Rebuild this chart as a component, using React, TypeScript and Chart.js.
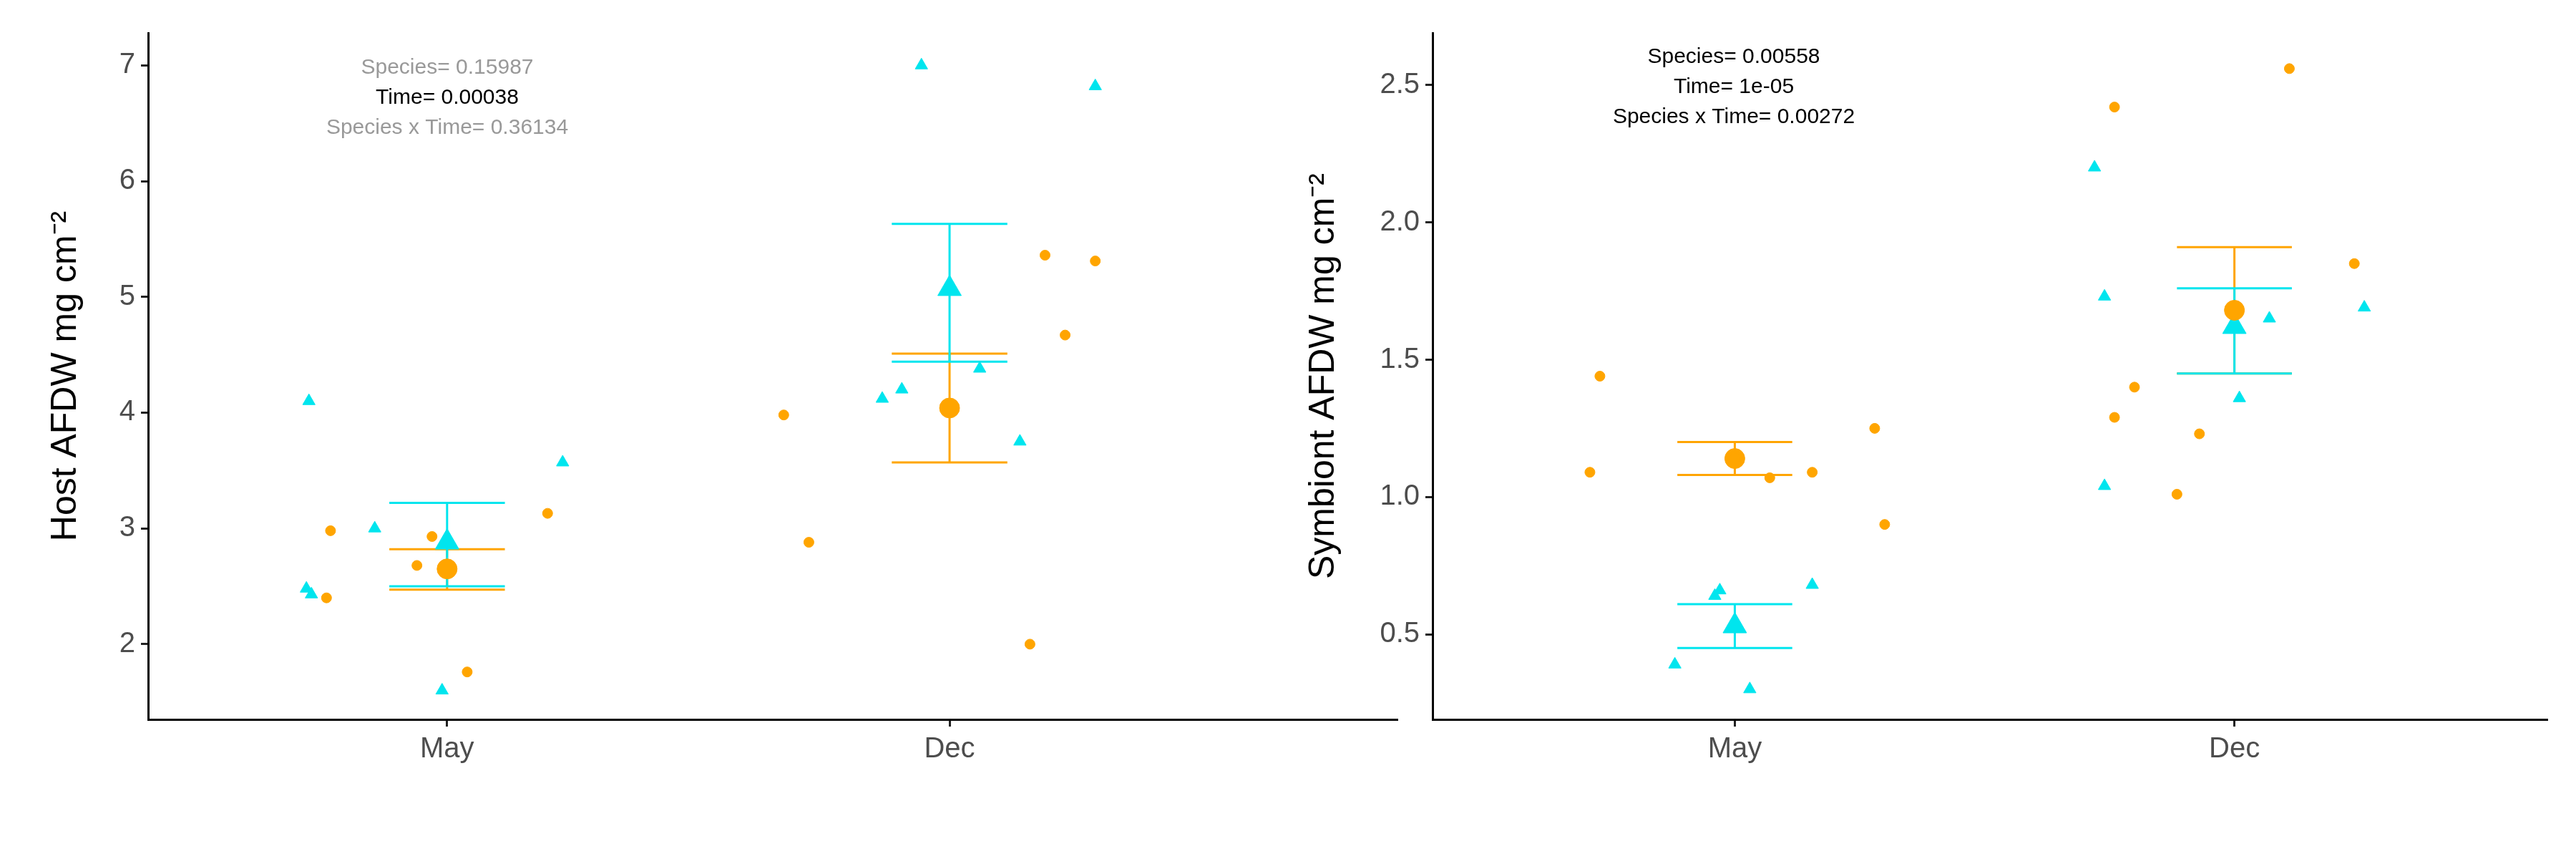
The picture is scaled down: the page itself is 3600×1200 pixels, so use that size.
import React, { useEffect, useRef } from 'react';
import { Chart, registerables } from 'chart.js';

Chart.register(...registerables);

const CYAN = '#00E5EE';
const ORANGE = '#FFA500';
const categories = ['May', 'Dec'];

// Host panel
const hostCyanX = [0.725, 0.72, 0.73, 0.856, 0.99, 1.23, 1.944, 1.866, 1.905, 2.06, 2.14, 2.29];
const hostCyanY = [4.1, 2.48, 2.43, 3.0, 1.6, 3.57, 7.0, 4.12, 4.2, 4.38, 3.75, 6.82];
const hostOrangeX = [0.768, 0.76, 0.94, 0.97, 1.04, 1.2, 1.67, 1.72, 2.19, 2.23, 2.29, 2.16];
const hostOrangeY = [2.98, 2.4, 2.68, 2.93, 1.76, 3.13, 3.98, 2.88, 5.36, 4.67, 5.31, 2.0];
const hostCyanMean = [2.88, 5.07];
const hostCyanLo = [2.5, 4.44];
const hostCyanHi = [3.22, 5.63];
const hostOrangeMean = [2.65, 4.04];
const hostOrangeLo = [2.47, 3.57];
const hostOrangeHi = [2.82, 4.51];
const hostStats = ['Species= 0.15987', 'Time= 0.00038', 'Species x Time= 0.36134'];
const hostSig = [false, true, false];

// Symbiont panel
const symCyanX = [0.88, 0.96, 0.97, 1.03, 1.155, 1.72, 1.74, 1.74, 2.01, 2.07, 2.26];
const symCyanY = [0.39, 0.64, 0.66, 0.3, 0.68, 2.2, 1.73, 1.04, 1.36, 1.65, 1.69];
const symOrangeX = [0.71, 0.73, 1.07, 1.155, 1.28, 1.3, 1.0, 1.76, 1.76, 1.8, 1.93, 1.885, 2.11, 2.24];
const symOrangeY = [1.09, 1.44, 1.07, 1.09, 1.25, 0.9, 1.14, 2.42, 1.29, 1.4, 1.23, 1.01, 2.56, 1.85];
const symCyanMean = [0.53, 1.62];
const symCyanLo = [0.45, 1.45];
const symCyanHi = [0.61, 1.76];
const symOrangeMean = [1.14, 1.68];
const symOrangeLo = [1.08, 1.45];
const symOrangeHi = [1.2, 1.91];
const symStats = ['Species= 0.00558', 'Time= 1e-05', 'Species x Time= 0.00272'];
const symSig = [true, true, true];

type PanelProps = {
  left: number; width: number; axisWidth: number; padRight: number; titlePad: number;
  xMin: number; xMax: number; yMin: number; yMax: number; yStep: number; decimals: number;
  title: string;
  cx: number[]; cy: number[]; ox: number[]; oy: number[];
  cMean: number[]; cLo: number[]; cHi: number[];
  oMean: number[]; oLo: number[]; oHi: number[];
  stats: string[]; sig: boolean[]; statsX: number; statsY: number;
};

const Panel = (p: PanelProps) => {
  const ref = useRef<HTMLCanvasElement>(null);
  useEffect(() => {
    if (!ref.current) return;
    const pts = (xs: number[], ys: number[]) => xs.map((x, i) => ({ x, y: ys[i] }));
    const means = (m: number[]) => m.map((y, i) => ({ x: i + 1, y }));
    const font = { family: 'Liberation Sans, Arial, sans-serif', size: 40 };
    const chart = new Chart(ref.current, {
      type: 'scatter',
      data: {
        datasets: [
          { data: pts(p.ox, p.oy), backgroundColor: ORANGE, borderColor: ORANGE, pointStyle: 'circle', pointRadius: 7 },
          { data: pts(p.cx, p.cy), backgroundColor: CYAN, borderColor: CYAN, pointStyle: 'triangle', pointRadius: 10 },
          { data: means(p.oMean), backgroundColor: ORANGE, borderColor: ORANGE, pointStyle: 'circle', pointRadius: 14 },
          { data: means(p.cMean), backgroundColor: CYAN, borderColor: CYAN, pointStyle: 'triangle', pointRadius: 19 },
        ],
      },
      options: {
        animation: false,
        responsive: false,
        layout: { padding: { top: 46, right: p.padRight, bottom: 0, left: 0 } },
        plugins: { legend: { display: false }, tooltip: { enabled: false } },
        scales: {
          x: {
            type: 'linear', min: p.xMin, max: p.xMax,
            afterBuildTicks: (s: any) => { s.ticks = [{ value: 1 }, { value: 2 }]; },
            afterFit: (s: any) => { s.height = 195; },
            ticks: { color: '#4d4d4d', font, padding: 8, callback: (v: any) => categories[Number(v) - 1] },
            grid: { drawOnChartArea: false, drawTicks: true, tickLength: 10, color: '#222', lineWidth: 3 },
            border: { display: true, color: '#000', width: 3 },
          },
          y: {
            min: p.yMin, max: p.yMax,
            afterBuildTicks: (s: any) => {
              const t = [];
              for (let v = Math.ceil(p.yMin / p.yStep) * p.yStep; v <= p.yMax + 1e-9; v += p.yStep) t.push({ value: +v.toFixed(2) });
              s.ticks = t;
            },
            afterFit: (s: any) => { s.width = p.axisWidth; },
            ticks: { color: '#4d4d4d', font, padding: 8, callback: (v: any) => Number(v).toFixed(p.decimals) },
            grid: { drawOnChartArea: false, drawTicks: true, tickLength: 10, color: '#222', lineWidth: 3 },
            border: { display: true, color: '#000', width: 3 },
            title: { display: true, text: p.title, color: '#000', font: { family: font.family, size: 50 }, padding: { top: p.titlePad, bottom: 10 } },
          },
        },
      },
      plugins: [{
        id: 'errbars',
        beforeDatasetsDraw: (c: any) => {
          const ctx = c.ctx, xs = c.scales.x, ys = c.scales.y;
          const bar = (lo: number[], hi: number[], col: string) => {
            ctx.save();
            ctx.strokeStyle = col; ctx.lineWidth = 3;
            lo.forEach((l, i) => {
              const x = xs.getPixelForValue(i + 1), x0 = xs.getPixelForValue(i + 1 - 0.115), x1 = xs.getPixelForValue(i + 1 + 0.115);
              const yl = ys.getPixelForValue(l), yh = ys.getPixelForValue(hi[i]);
              ctx.beginPath();
              ctx.moveTo(x, yl); ctx.lineTo(x, yh);
              ctx.moveTo(x0, yl); ctx.lineTo(x1, yl);
              ctx.moveTo(x0, yh); ctx.lineTo(x1, yh);
              ctx.stroke();
            });
            ctx.restore();
          };
          bar(p.oLo, p.oHi, ORANGE);
          bar(p.cLo, p.cHi, CYAN);
        },
        afterDraw: (c: any) => {
          const ctx = c.ctx;
          ctx.save();
          ctx.font = '30px Liberation Sans, Arial, sans-serif';
          ctx.textAlign = 'center'; ctx.textBaseline = 'middle';
          p.stats.forEach((s, i) => {
            ctx.fillStyle = p.sig[i] ? '#000' : '#999';
            ctx.fillText(s, p.statsX, p.statsY + i * 42);
          });
          ctx.restore();
        },
      }],
    });
    return () => chart.destroy();
  }, []);
  return <canvas ref={ref} width={p.width} height={1200}
    style={{ position: 'absolute', left: p.left, top: 0, width: p.width, height: 1200 }} />;
};

export default function App() {
  useEffect(() => { document.body.style.margin = '0'; }, []);
  return (
    <div style={{ position: 'relative', width: 3600, height: 1200, background: '#fff' }}>
      <Panel left={0} width={1980} axisWidth={207} padRight={28} titlePad={62}
        xMin={0.405} xMax={2.89} yMin={1.35} yMax={7.28} yStep={1} decimals={0}
        title="Host AFDW mg cm⁻²"
        cx={hostCyanX} cy={hostCyanY} ox={hostOrangeX} oy={hostOrangeY}
        cMean={hostCyanMean} cLo={hostCyanLo} cHi={hostCyanHi}
        oMean={hostOrangeMean} oLo={hostOrangeLo} oHi={hostOrangeHi}
        stats={hostStats} sig={hostSig} statsX={625} statsY={95} />
      <Panel left={1780} width={1820} axisWidth={222} padRight={41} titlePad={40}
        xMin={0.395} xMax={2.625} yMin={0.19} yMax={2.69} yStep={0.5} decimals={1}
        title="Symbiont AFDW mg cm⁻²"
        cx={symCyanX} cy={symCyanY} ox={symOrangeX} oy={symOrangeY}
        cMean={symCyanMean} cLo={symCyanLo} cHi={symCyanHi}
        oMean={symOrangeMean} oLo={symOrangeLo} oHi={symOrangeHi}
        stats={symStats} sig={symSig} statsX={2423 - 1780} statsY={80} />
    </div>
  );
}
